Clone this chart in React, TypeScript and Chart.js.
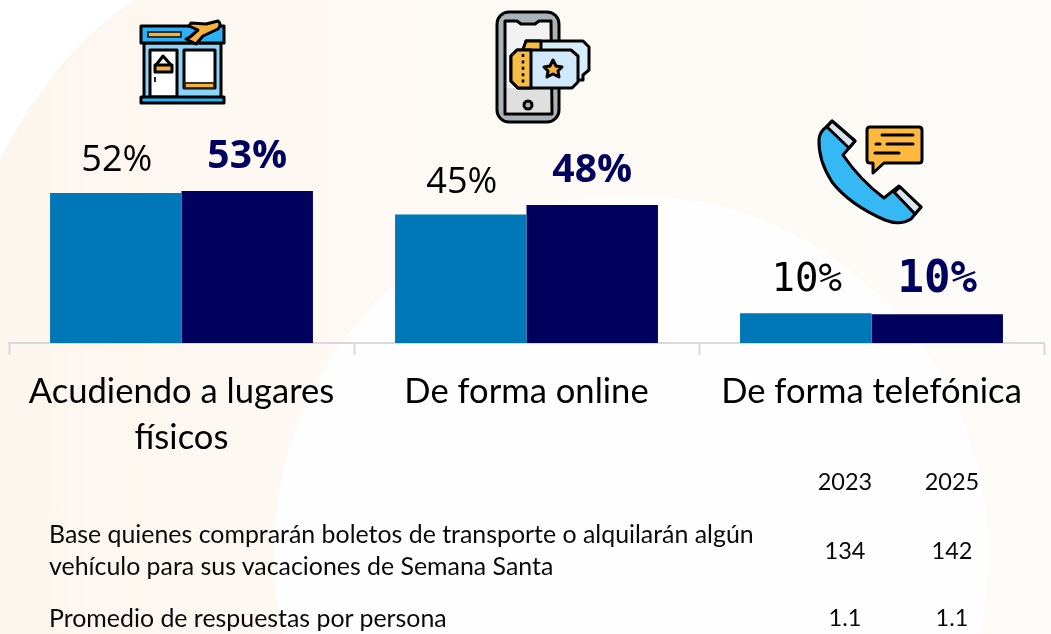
import React, { useEffect, useRef } from "react";
import { Chart, registerables } from "chart.js";

Chart.register(...registerables);

const categories: (string | string[])[] = [["Acudiendo a lugares", "físicos"], "De forma online", "De forma telefónica"];
const values2023 = [52.1, 44.6, 10.3];
const values2025 = [52.8, 47.9, 10.0];
const years = ["2023", "2025"];
const baseLabel = ["Base quienes comprarán boletos de transporte o alquilarán algún", "vehículo para sus vacaciones de Semana Santa"];
const baseValues = ["134", "142"];
const avgLabel = "Promedio de respuestas por persona";
const avgValues = ["1.1", "1.1"];

const COLOR_2023 = "#0077b6";
const COLOR_2025 = "#00005e";
const TEXT_FONT = "Lato";

const valueLabels = {
  id: "valueLabels",
  afterDatasetsDraw(chart: any) {
    const ctx = chart.ctx;
    ctx.save();
    ctx.textAlign = "center";
    ctx.textBaseline = "alphabetic";
    chart.data.datasets.forEach((ds: any, di: number) => {
      chart.getDatasetMeta(di).data.forEach((bar: any, i: number) => {
        const txt = Math.round(ds.data[i]) + "%";
        const mono = i === 2;
        const bold = di === 1;
        const size = mono ? (bold ? 44 : 39) : bold ? 39 : 36;
        const family = mono ? "'DejaVu Sans Mono'" : "'Open Sans'";
        ctx.font = `${bold ? "bold " : ""}${size}px ${family}`;
        ctx.fillStyle = bold ? COLOR_2025 : "#000000";
        ctx.fillText(txt, bar.x + (di === 0 ? 1 : 0), bar.y - (mono ? 22 : bold ? 23 : 22));
      });
    });
    ctx.restore();
  },
};

function cell(x: number, y: number, text: string, center: boolean) {
  const size = center ? 23.5 : 24.9;
  const style: React.CSSProperties = {
    position: "absolute",
    left: center ? x - 60 : x,
    width: center ? 120 : undefined,
    top: y - 15,
    height: 30,
    textAlign: center ? "center" : "left",
    whiteSpace: "nowrap",
    font: `${size}px/30px ${TEXT_FONT}`,
    color: "#0a0a0a",
  };
  return <div key={`${x}-${y}`} style={style}>{text}</div>;
}

function Icons() {
  const k = { stroke: "#000", strokeWidth: 3, strokeLinejoin: "round" as const, strokeLinecap: "round" as const };
  return (
    <g>
      {/* store */}
      <rect x="144" y="43" width="77" height="55" fill="#8dd4f9" {...k} />
      <rect x="141" y="26" width="83" height="17" fill="#2db1f6" {...k} />
      <rect x="148" y="32" width="33" height="5" fill="#f6b03c" stroke="#222" strokeWidth="1.8" />
      <path d="M218 21 L206 24 L191 23 L189 26 L198 30 L190 37 L186 39 L196 44 L203 36 L218 29 Q222 24 218 21 Z" fill="#f6b03c" {...k} />
      <rect x="150" y="50" width="27" height="47" fill="#fff" {...k} />
      <rect x="184" y="50" width="31" height="38" fill="#fff" {...k} />
      <rect x="185" y="83" width="29" height="5" fill="#f6b03c" stroke="#222" strokeWidth="1.8" />
      <path d="M156 65 L163 56 L171 65" fill="none" {...k} />
      <rect x="155" y="65" width="17" height="7" fill="#f6b03c" {...k} />
      <rect x="154" y="77" width="2" height="5" fill="#222" />
      <rect x="141" y="97" width="83" height="6" fill="#2db1f6" {...k} />
      {/* phone */}
      <rect x="497" y="12" width="62" height="110" rx="12" fill="#a9b3b8" {...k} />
      <path d="M505 21 L517 21 L521 24 L535 24 L539 21 L551 21 L552 114 L505 114 Z" fill="#f2f2f2" {...k} />
      <rect x="507" y="88" width="43" height="24" fill="#dfdfdf" />
      <circle cx="528" cy="105" r="4" fill="#a9b3b8" {...k} />
      <path d="M526 41 L583 41 L589 47 L589 70 L583 75 L583 80 L526 80 Z" fill="#d8edfb" {...k} />
      <path d="M526 41 L541 41 L541 52 L522 52 Z" fill="#f6bd44" {...k} />
      <path d="M517 50 L571 50 L578 56 L578 82 L572 88 L518 88 L511 81 L511 56 Z" fill="#cfe8fa" {...k} />
      <path d="M517 50 L531 50 L531 88 L518 88 L511 81 L511 56 Z" fill="#f6bd44" {...k} />
      <path d="M523 54 V85" stroke="#000" strokeWidth="2.6" strokeDasharray="3 3.4" fill="none" />
      <path d="M553 60 L556 66 L562 67 L558 71 L559 77 L553 74 L547 77 L548 71 L544 67 L550 66 Z" fill="#f6b03c" {...k} />
      {/* telephone */}
      <path d="M825 128 L832 121 L855 141 L843 155 Q860 180 884 198 L899 186 L921 207 L911 219 Q900 226 885 220 Q850 205 832 182 Q818 160 819 139 Q820 132 825 128 Z" fill="#35b8f3" {...k} />
      <path d="M827 127 L832 121 L855 141 L849 148 Z" fill="#d9e6ef" {...k} />
      <path d="M894 192 L900 187 L921 207 L915 214 Z" fill="#d9e6ef" {...k} />
      <path d="M870 127 H919 Q922 127 922 130 V160 Q922 163 919 163 H884 L873 173 V163 H870 Q867 163 867 160 V130 Q867 127 870 127 Z" fill="#ffb93e" {...k} />
      <path d="M882 135 H913 M876 144 H880 M887 144 H913 M875 153 H899" fill="none" {...k} />
    </g>
  );
}

export default function App() {
  const ref = useRef<HTMLCanvasElement>(null);
  useEffect(() => {
    document.body.style.margin = "0";
    const chart = new Chart(ref.current!, {
      type: "bar",
      data: {
        labels: categories as any,
        datasets: [
          { label: "2023", data: values2023, backgroundColor: COLOR_2023 },
          { label: "2025", data: values2025, backgroundColor: COLOR_2025 },
        ],
      },
      options: {
        animation: false,
        responsive: false,
        layout: { padding: { left: 9, right: 7, top: 0, bottom: 0 } },
        plugins: { legend: { display: false }, tooltip: { enabled: false } },
        datasets: { bar: { categoryPercentage: 0.762, barPercentage: 1 } },
        scales: {
          y: { display: false, min: 0, max: 119.1 },
          x: {
            afterFit: (s: any) => { s.height = 291; },
            grid: { offset: true, drawOnChartArea: false, drawTicks: true, tickLength: 12, tickColor: "#d9d9d9", tickWidth: 2 },
            border: { color: "#d9d9d9", width: 2 },
            ticks: {
              color: "#000000",
              font: { family: TEXT_FONT, size: 34.6, lineHeight: 1.33 },
              maxRotation: 0,
              autoSkip: false,
              padding: 14,
            },
          },
        },
      },
      plugins: [valueLabels],
    } as any);
    return () => chart.destroy();
  }, []);

  return (
    <div style={{ position: "relative", width: 1051, height: 634, overflow: "hidden" }}>
      <svg width="1051" height="634" style={{ position: "absolute", left: 0, top: 0 }}>
        <defs>
          <linearGradient id="bg" x1="0" y1="0" x2="1" y2="0">
            <stop offset="0" stopColor="#fdf6ef" />
            <stop offset="0.4" stopColor="#fdf9f4" />
            <stop offset="1" stopColor="#fdfcf8" />
          </linearGradient>
        </defs>
        <rect width="1051" height="634" fill="url(#bg)" />
        <path d="M0 0 H135 Q55 50 0 160 Z" fill="#ffffff" />
        <circle cx="631" cy="552" r="357" fill="#fefefe" />
        <Icons />
      </svg>
      <canvas ref={ref} width={1051} height={634} style={{ position: "absolute", left: 0, top: 0 }} />
      {cell(845, 481, years[0], true)}
      {cell(952, 481, years[1], true)}
      {cell(49, 533, baseLabel[0], false)}
      {cell(49, 565, baseLabel[1], false)}
      {cell(845, 550, baseValues[0], true)}
      {cell(952, 550, baseValues[1], true)}
      {cell(49, 617, avgLabel, false)}
      {cell(845, 617, avgValues[0], true)}
      {cell(952, 617, avgValues[1], true)}
    </div>
  );
}
